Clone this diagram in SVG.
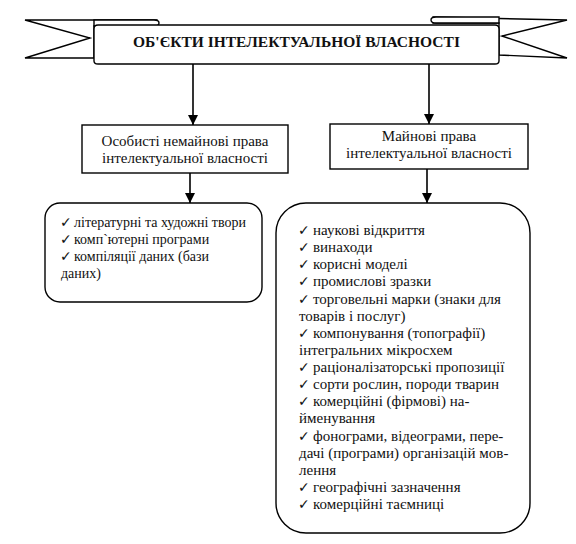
<svg xmlns="http://www.w3.org/2000/svg" width="576" height="544" viewBox="0 0 576 544">
<defs>
<marker id="ah" viewBox="0 0 10 10" refX="10" refY="5" markerWidth="10" markerHeight="10" markerUnits="userSpaceOnUse" orient="auto">
<path d="M0,0 L10,5 L0,10 z" fill="#000"/>
</marker>
<style>
.ln{fill:#fff;stroke:#000;stroke-width:1.4}
.cn{stroke:#000;stroke-width:1.6;fill:none}
</style>
</defs>
<rect width="576" height="544" fill="#fff"/>
<g id="banner">
<path class="ln" d="M157,20 L25,20 L90,38 L25,58 L94,58 L94,26 L157,26 Z"/>
<path class="ln" d="M94,26 L94,20 L154,20 Q159,20 159,23 Q159,26 154,26 Z"/>
<path class="ln" d="M433,17 L567,20 L502,36 L567,58 L499,55 L499,23 L433,23 Z"/>
<path class="ln" d="M499,23 L499,17 L436,17 Q431,17 431,20 Q431,23 436,23 Z"/>
<path class="ln" d="M98,25 L495,25 Q499,25 499,29 L499,61 Q499,64 495,64 L98,64 Q94,64 94,61 L94,29 Q94,25 98,25 Z"/>
<text x="296.5" y="47" text-anchor="middle" font-family="Liberation Serif" font-size="15.5" font-weight="bold" fill="#111">ОБ'ЄКТИ ІНТЕЛЕКТУАЛЬНОЇ ВЛАСНОСТІ</text>
</g>
<g id="connectors">
<line class="cn" x1="193" y1="64" x2="193" y2="125" marker-end="url(#ah)"/>
<line class="cn" x1="429" y1="64" x2="429" y2="124" marker-end="url(#ah)"/>
<line class="cn" x1="190" y1="173" x2="190" y2="203" marker-end="url(#ah)"/>
<line class="cn" x1="427" y1="169" x2="427" y2="203" marker-end="url(#ah)"/>
</g>
<g id="personal">
<rect class="ln" x="82" y="125" width="206" height="48"/>
<text x="185" y="146" font-family="Liberation Serif" font-size="15" fill="#111" text-anchor="middle">Особисті немайнові права</text>
<text x="185" y="163" font-family="Liberation Serif" font-size="15" fill="#111" text-anchor="middle">інтелектуальної власності</text>
</g>
<g id="property">
<rect class="ln" x="330" y="124" width="198" height="45"/>
<text x="429" y="141" font-family="Liberation Serif" font-size="15" fill="#111" text-anchor="middle">Майнові права</text>
<text x="429" y="158" font-family="Liberation Serif" font-size="15" fill="#111" text-anchor="middle">інтелектуальної власності</text>
</g>
<g id="personal-list">
<rect class="ln" x="45" y="203" width="217" height="99" rx="15"/>
<text x="74" y="227" font-family="Liberation Serif" font-size="14" fill="#111">літературні та художні твори</text>
<text x="74" y="244" font-family="Liberation Serif" font-size="14" fill="#111">комп`ютерні програми</text>
<text x="74" y="261" font-family="Liberation Serif" font-size="14" fill="#111">компіляції даних (бази</text>
<text x="61" y="278" font-family="Liberation Serif" font-size="14" fill="#111">даних)</text>
</g>
<g id="property-list">
<rect class="ln" x="276" y="203" width="254" height="330" rx="30"/>
<text x="313" y="235" font-family="Liberation Serif" font-size="15" fill="#111">наукові відкриття</text>
<text x="313" y="252.1" font-family="Liberation Serif" font-size="15" fill="#111">винаходи</text>
<text x="313" y="269.2" font-family="Liberation Serif" font-size="15" fill="#111">корисні моделі</text>
<text x="313" y="286.4" font-family="Liberation Serif" font-size="15" fill="#111">промислові зразки</text>
<text x="313" y="303.5" font-family="Liberation Serif" font-size="15" fill="#111">торговельні марки (знаки для</text>
<text x="299" y="320.6" font-family="Liberation Serif" font-size="15" fill="#111">товарів і послуг)</text>
<text x="313" y="337.8" font-family="Liberation Serif" font-size="15" fill="#111">компонування (топографії)</text>
<text x="299" y="354.9" font-family="Liberation Serif" font-size="15" fill="#111">інтегральних мікросхем</text>
<text x="313" y="372" font-family="Liberation Serif" font-size="15" fill="#111">раціоналізаторські пропозиції</text>
<text x="313" y="389.1" font-family="Liberation Serif" font-size="15" fill="#111">сорти рослин, породи тварин</text>
<text x="313" y="406.2" font-family="Liberation Serif" font-size="15" fill="#111">комерційні (фірмові) на-</text>
<text x="299" y="423.4" font-family="Liberation Serif" font-size="15" fill="#111">йменування</text>
<text x="313" y="440.5" font-family="Liberation Serif" font-size="15" fill="#111">фонограми, відеограми, пере-</text>
<text x="299" y="457.6" font-family="Liberation Serif" font-size="15" fill="#111">дачі (програми) організацій мов-</text>
<text x="299" y="474.8" font-family="Liberation Serif" font-size="15" fill="#111">лення</text>
<text x="313" y="491.9" font-family="Liberation Serif" font-size="15" fill="#111">географічні зазначення</text>
<text x="313" y="509" font-family="Liberation Serif" font-size="15" fill="#111">комерційні таємниці</text>
</g>
<g id="checks" font-family="DejaVu Sans" font-size="14" fill="#111">
<text x="60" y="227">✓</text><text x="60" y="244">✓</text><text x="60" y="261">✓</text>
<text x="298" y="235">✓</text><text x="298" y="252.1">✓</text><text x="298" y="269.2">✓</text><text x="298" y="286.4">✓</text><text x="298" y="303.5">✓</text><text x="298" y="337.8">✓</text><text x="298" y="372">✓</text><text x="298" y="389.1">✓</text><text x="298" y="406.2">✓</text><text x="298" y="440.5">✓</text><text x="298" y="491.9">✓</text><text x="298" y="509">✓</text>
</g>
</svg>
